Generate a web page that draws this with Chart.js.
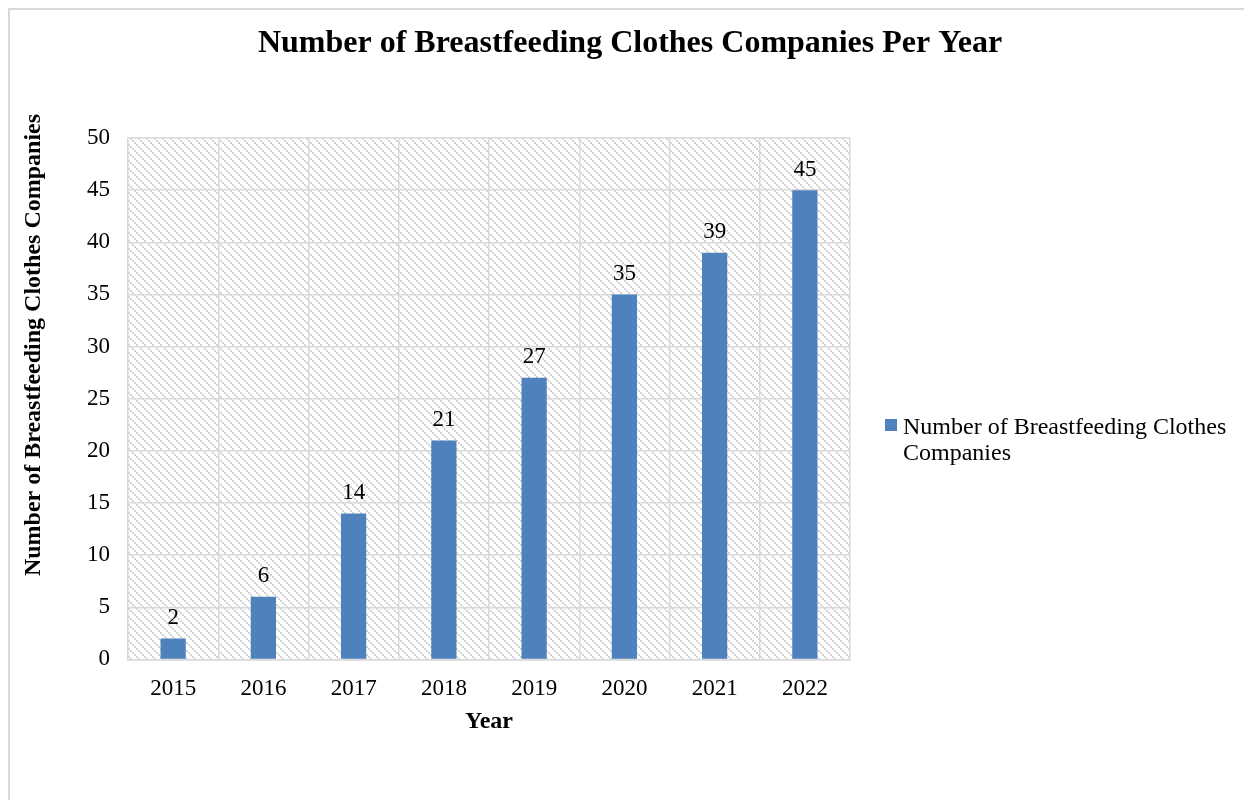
<!DOCTYPE html>
<html>
<head>
<meta charset="utf-8">
<script src="https://cdn.jsdelivr.net/npm/chart.js@4.4.1/dist/chart.umd.min.js"></script>
<style>
  html, body { margin: 0; padding: 0; background: #fff; }
  #wrap { width: 1244px; height: 800px; }
</style>
</head>
<body>
<div id="wrap"><canvas id="companiesChart" width="1244" height="800"></canvas></div>
<script>
'use strict';

// Dados do gráfico
const years = ['2015', '2016', '2017', '2018', '2019', '2020', '2021', '2022'];
const companies = [2, 6, 14, 21, 27, 35, 39, 45];
const seriesName = 'Number of Breastfeeding Clothes Companies';
const chartTitle = 'Number of Breastfeeding Clothes Companies Per Year';
const xTitle = 'Year';
const yTicks = [0, 5, 10, 15, 20, 25, 30, 35, 40, 45, 50];

const serif = "'Liberation Serif', 'Times New Roman', serif";
const barColor = '#4f81bd';
const gridColor = '#d9d9d9';

// padrão hachurado do fundo
function makeHatch(g0) {
    const c = document.createElement('canvas');
    c.width = 8; c.height = 8;
    const g = c.getContext('2d');
    g.fillStyle = '#ffffff';
    g.fillRect(0, 0, 8, 8);
    g.fillStyle = '#d4d4d4';
    for (let k = 0; k < 4; k++) {
        g.fillRect(2 * k, 2 * k, 2, 2);
    }
    return g0.createPattern(c, 'repeat');
}

// moldura externa + fundo da área do gráfico
const backgroundPlugin = {
    id: 'background',
    beforeDraw(chart) {
        const { ctx, chartArea: a } = chart;
        ctx.save();
        ctx.strokeStyle = gridColor;
        ctx.lineWidth = 2;
        ctx.strokeRect(9, 9, chart.width + 20, chart.height + 20);
        ctx.fillStyle = makeHatch(ctx);
        ctx.fillRect(a.left, a.top, a.right - a.left, a.bottom - a.top);
        ctx.restore();
    }
};

// títulos (gráfico e eixos), rótulos de valor e legenda
const textPlugin = {
    id: 'texts',
    afterDraw(chart) {
        const { ctx, chartArea: a } = chart;
        const meta = chart.getDatasetMeta(0);
        ctx.save();
        ctx.fillStyle = '#000';
        ctx.textAlign = 'center';
        ctx.textBaseline = 'middle';

        ctx.font = 'bold 32px ' + serif;
        ctx.fillText(chartTitle, 630, 44);

        ctx.font = 'bold 24px ' + serif;
        ctx.fillText(xTitle, (a.left + a.right) / 2, 722);

        ctx.save();
        ctx.translate(34, 345);
        ctx.rotate(-Math.PI / 2);
        ctx.fillText(seriesName, 0, 0);
        ctx.restore();

        ctx.font = '23px ' + serif;
        ctx.textBaseline = 'bottom';
        meta.data.forEach((bar, i) => {
            ctx.fillText(String(companies[i]), bar.x, bar.y - 9);
        });

        // legenda
        const x = 885, y = 419;
        ctx.fillStyle = barColor;
        ctx.fillRect(x, y, 12, 12);
        ctx.fillStyle = '#000';
        ctx.font = '24px ' + serif;
        ctx.textAlign = 'left';
        ctx.textBaseline = 'alphabetic';
        ctx.fillText('Number of Breastfeeding Clothes', x + 18, y + 15);
        ctx.fillText('Companies', x + 18, y + 41);
        ctx.restore();
    }
};

const ctx = document.getElementById('companiesChart').getContext('2d');

new Chart(ctx, {
    type: 'bar',
    data: {
        labels: years,
        datasets: [{
            label: seriesName,
            data: companies,
            backgroundColor: barColor,
            borderWidth: 0,
            categoryPercentage: 1,
            barPercentage: 0.28
        }]
    },
    options: {
        responsive: false,
        animation: false,
        devicePixelRatio: 1,
        layout: { padding: { left: 69, right: 394, top: 138, bottom: 81 } },
        plugins: {
            legend: { display: false },
            tooltip: { enabled: false },
            title: { display: false }
        },
        scales: {
            x: {
                grid: { color: gridColor, lineWidth: 1.5, offset: true, drawTicks: false },
                border: { color: gridColor, width: 1.5 },
                ticks: { color: '#000', font: { family: serif, size: 23 }, padding: 16 }
            },
            y: {
                min: 0,
                max: 50,
                afterBuildTicks(axis) { axis.ticks = yTicks.map(v => ({ value: v })); },
                grid: { color: gridColor, lineWidth: 1.5, drawTicks: false },
                border: { color: gridColor, width: 1.5 },
                ticks: { color: '#000', font: { family: serif, size: 23 }, padding: 18 }
            }
        }
    },
    plugins: [backgroundPlugin, textPlugin]
});
</script>
</body>
</html>
